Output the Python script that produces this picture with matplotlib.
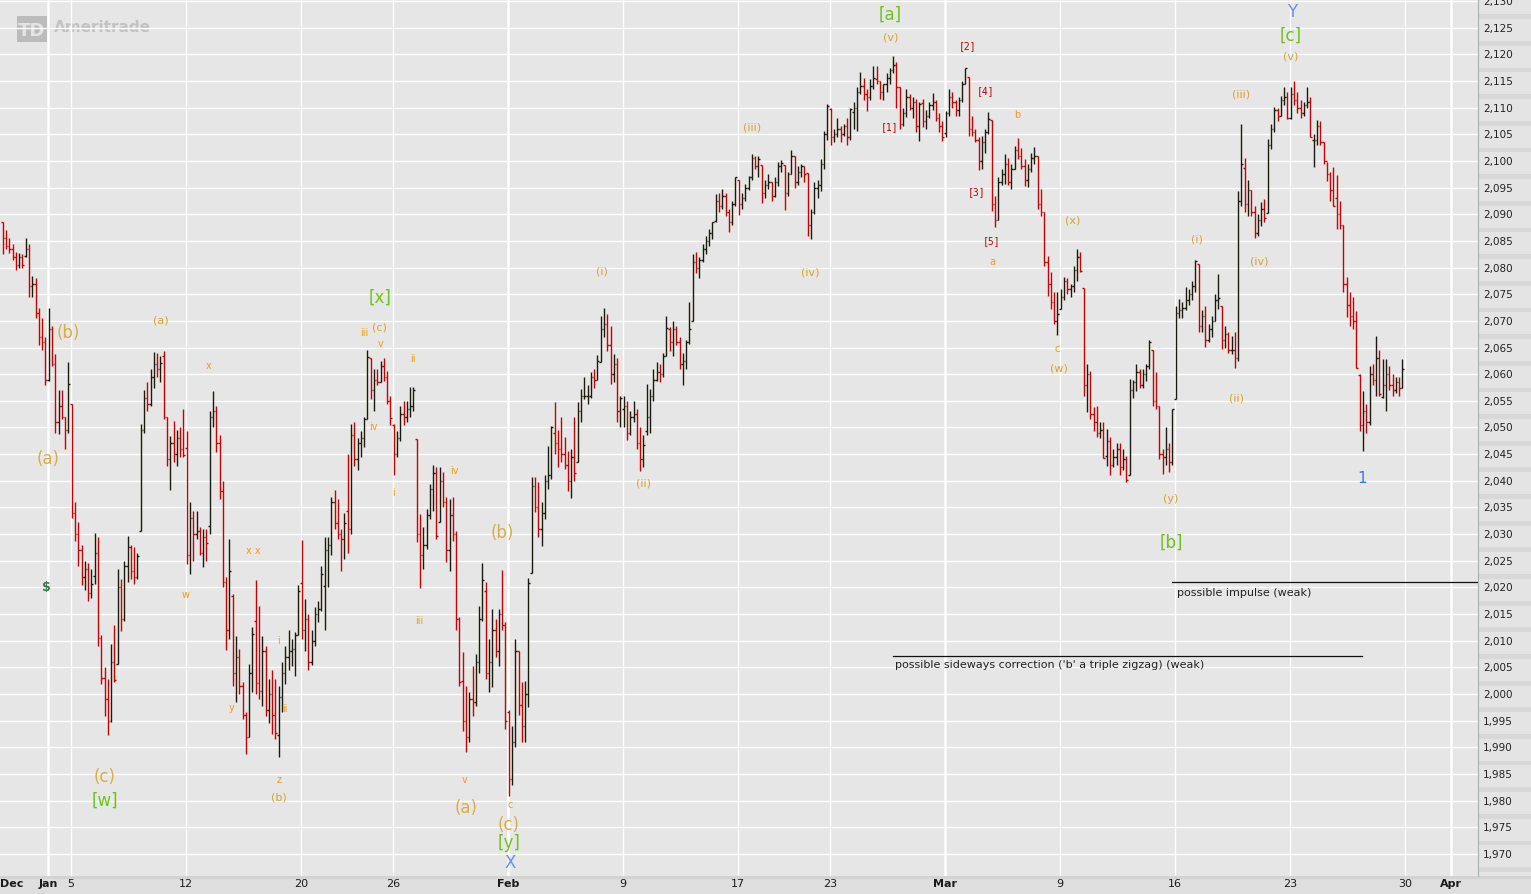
import numpy as np
import matplotlib
matplotlib.use("Agg")
import matplotlib.pyplot as plt
from matplotlib.patches import Rectangle
from matplotlib.transforms import blended_transform_factory

# trading days shown, hourly bars (7 per session)
days = ["12-30", "12-31", "01-02", "01-05", "01-06", "01-07", "01-08", "01-09",
        "01-12", "01-13", "01-14", "01-15", "01-16", "01-20", "01-21", "01-22",
        "01-23", "01-26", "01-27", "01-28", "01-29", "01-30", "02-02", "02-03",
        "02-04", "02-05", "02-06", "02-09", "02-10", "02-11", "02-12", "02-13",
        "02-17", "02-18", "02-19", "02-20", "02-23", "02-24", "02-25", "02-26",
        "02-27", "03-02", "03-03", "03-04", "03-05", "03-06", "03-09", "03-10",
        "03-11", "03-12", "03-13", "03-16", "03-17", "03-18", "03-19", "03-20",
        "03-23", "03-24", "03-25", "03-26", "03-27"]

day_open = [2088.5, 2082.1, 2058.9, 2054.4, 2022.2, 2005.6, 2030.6, 2063.5,
            2046.1, 2031.6, 2018.4, 2013.75, 1992.25, 2020.8, 2020.2, 2034.3,
            2063.0, 2050.4, 2047.9, 2032.3, 2002.45, 2019.35, 1996.7, 2022.7,
            2048.9, 2043.45, 2062.3, 2053.5, 2049.4, 2068.55, 2070.0, 2088.8,
            2096.5, 2099.2, 2099.3, 2097.7, 2109.8, 2109.1, 2115.3, 2113.9,
            2110.9, 2105.2, 2115.8, 2107.7, 2098.5, 2100.9, 2072.3, 2076.1,
            2044.7, 2041.1, 2064.6, 2055.4, 2080.6, 2072.8, 2098.7, 2090.3,
            2108.0, 2103.9, 2093.1, 2059.9, 2055.8]

bar_high = [
    [2088.5, 2087.0, 2085.5, 2084.5, 2083.0, 2082.8, 2082.5],
    [2085.6, 2084.5, 2078.5, 2078.0, 2072.5, 2070.5, 2067.0],
    [2072.4, 2069.0, 2063.8, 2057.0, 2057.0, 2052.0, 2062.3],
    [2054.4, 2036.0, 2032.3, 2028.0, 2025.0, 2024.5, 2023.5],
    [2030.3, 2029.5, 2011.0, 2005.0, 2002.8, 2009.4, 2013.0],
    [2023.5, 2021.5, 2025.0, 2029.6, 2028.0, 2027.5, 2026.5],
    [2050.6, 2057.0, 2058.5, 2061.0, 2064.1, 2064.0, 2063.5],
    [2064.4, 2052.0, 2048.4, 2051.2, 2049.5, 2050.0, 2053.5],
    [2049.3, 2036.0, 2034.3, 2034.3, 2031.3, 2031.0, 2031.0],
    [2053.0, 2056.9, 2054.0, 2048.5, 2040.0, 2022.0, 2029.0],
    [2018.8, 2010.9, 2008.4, 2002.3, 1996.6, 2005.6, 2012.6],
    [2021.4, 2016.5, 2010.9, 2009.0, 2002.8, 2004.5, 2002.8],
    [2001.5, 2006.0, 2009.0, 2012.0, 2010.3, 2011.6, 2020.5],
    [2028.9, 2017.8, 2015.0, 2012.0, 2016.3, 2017.5, 2024.0],
    [2029.5, 2029.5, 2037.0, 2038.3, 2036.6, 2031.0, 2034.0],
    [2045.0, 2050.6, 2051.0, 2048.0, 2049.3, 2052.0, 2064.6],
    [2063.0, 2061.0, 2061.0, 2062.5, 2063.0, 2060.6, 2056.0],
    [2050.6, 2049.3, 2054.0, 2055.0, 2055.0, 2057.6, 2057.6],
    [2047.9, 2033.8, 2031.3, 2034.7, 2039.4, 2043.0, 2042.5],
    [2042.5, 2041.6, 2037.0, 2036.6, 2037.0, 2030.5, 2014.4],
    [2007.9, 2001.5, 2000.4, 2005.3, 2007.5, 2016.5, 2024.6],
    [2021.0, 2010.3, 2016.0, 2014.0, 2016.0, 2023.3, 2013.5],
    [1997.0, 1994.0, 2010.3, 2008.0, 2002.3, 2002.5, 2021.7],
    [2040.7, 2040.7, 2039.8, 2036.0, 2041.0, 2046.5, 2050.3],
    [2054.7, 2049.5, 2052.0, 2048.2, 2045.5, 2046.0, 2052.0],
    [2054.8, 2057.2, 2059.5, 2058.0, 2060.4, 2061.0, 2063.6],
    [2071.0, 2072.4, 2071.2, 2069.0, 2063.7, 2063.0, 2056.0],
    [2056.0, 2055.0, 2053.0, 2055.0, 2053.5, 2050.0, 2048.5],
    [2058.2, 2057.2, 2061.0, 2062.3, 2062.0, 2064.0, 2070.9],
    [2068.8, 2070.0, 2069.0, 2067.0, 2064.0, 2066.5, 2073.5],
    [2082.5, 2083.0, 2082.0, 2084.4, 2086.0, 2087.2, 2088.5],
    [2093.8, 2094.0, 2094.7, 2094.0, 2091.0, 2092.5, 2097.0],
    [2096.5, 2094.0, 2095.7, 2097.2, 2101.3, 2101.0, 2101.0],
    [2099.2, 2096.5, 2097.6, 2096.0, 2097.0, 2099.8, 2100.2],
    [2099.3, 2098.0, 2102.1, 2101.0, 2099.0, 2099.5, 2099.0],
    [2097.7, 2091.0, 2096.0, 2096.5, 2100.4, 2105.6, 2110.6],
    [2110.0, 2106.0, 2108.0, 2106.5, 2107.0, 2108.0, 2110.0],
    [2111.0, 2113.9, 2116.7, 2115.5, 2113.5, 2115.4, 2117.9],
    [2117.8, 2115.0, 2114.5, 2116.5, 2117.5, 2119.6, 2118.5],
    [2113.9, 2110.0, 2113.5, 2112.5, 2112.0, 2111.6, 2111.0],
    [2111.6, 2109.5, 2111.0, 2112.7, 2111.5, 2109.0, 2107.5],
    [2109.4, 2113.5, 2113.0, 2111.5, 2112.0, 2115.0, 2117.5],
    [2115.8, 2108.5, 2106.0, 2104.5, 2104.7, 2106.0, 2109.2],
    [2107.7, 2093.4, 2097.0, 2098.5, 2101.3, 2100.5, 2099.5],
    [2102.8, 2104.3, 2102.5, 2100.4, 2099.5, 2101.5, 2102.6],
    [2100.9, 2094.7, 2090.5, 2082.2, 2079.2, 2075.5, 2075.4],
    [2076.0, 2078.3, 2078.0, 2077.0, 2080.2, 2083.5, 2083.0],
    [2076.1, 2061.9, 2060.6, 2053.8, 2054.0, 2051.0, 2051.0],
    [2049.7, 2048.2, 2046.0, 2047.0, 2047.0, 2046.0, 2044.6],
    [2059.1, 2059.0, 2061.9, 2061.0, 2061.0, 2062.0, 2066.4],
    [2064.6, 2060.4, 2054.0, 2046.0, 2050.0, 2047.0, 2053.5],
    [2072.8, 2074.1, 2073.5, 2076.4, 2076.0, 2077.5, 2081.4],
    [2080.6, 2072.0, 2072.8, 2069.5, 2071.0, 2075.0, 2078.8],
    [2072.8, 2069.0, 2068.0, 2067.2, 2068.0, 2094.4, 2106.9],
    [2100.5, 2096.5, 2094.5, 2091.5, 2090.0, 2092.3, 2092.9],
    [2104.1, 2107.0, 2110.1, 2110.0, 2112.2, 2113.9, 2113.0],
    [2113.9, 2114.9, 2113.0, 2111.5, 2111.0, 2113.9, 2112.0],
    [2105.0, 2107.6, 2107.5, 2103.5, 2099.8, 2098.0, 2098.8],
    [2097.4, 2092.5, 2088.0, 2078.2, 2075.4, 2074.5, 2071.8],
    [2060.0, 2056.8, 2054.5, 2061.5, 2062.0, 2067.2, 2064.5],
    [2062.8, 2062.8, 2061.5, 2060.0, 2059.5, 2059.5, 2062.8],
]

bar_low = [
    [2082.5, 2083.5, 2082.8, 2081.5, 2079.6, 2080.0, 2080.0],
    [2082.0, 2074.5, 2074.5, 2070.5, 2065.5, 2064.5, 2057.9],
    [2058.7, 2061.5, 2049.0, 2048.8, 2051.5, 2046.0, 2049.0],
    [2033.0, 2028.7, 2024.0, 2020.5, 2019.5, 2017.4, 2018.0],
    [2020.6, 2009.0, 2001.9, 1995.8, 1992.4, 1994.7, 2002.3],
    [2005.6, 2011.8, 2013.7, 2021.0, 2021.5, 2020.6, 2021.6],
    [2030.6, 2049.0, 2053.0, 2054.0, 2057.5, 2059.5, 2058.5],
    [2051.6, 2042.8, 2038.3, 2043.5, 2042.8, 2044.5, 2044.5],
    [2024.4, 2022.6, 2025.0, 2029.0, 2026.0, 2023.8, 2025.0],
    [2030.0, 2050.0, 2045.4, 2036.5, 2020.0, 2008.3, 2010.3],
    [2001.5, 1998.5, 2000.0, 1995.3, 1988.7, 1992.0, 2000.4],
    [2000.0, 1999.0, 1997.8, 1995.8, 1994.5, 1992.5, 1991.5],
    [1988.1, 1996.6, 2001.9, 2004.5, 2005.3, 2003.4, 2011.0],
    [2010.3, 2008.0, 2004.5, 2005.5, 2009.0, 2013.6, 2015.5],
    [2012.0, 2020.0, 2026.0, 2031.0, 2029.0, 2023.0, 2025.3],
    [2026.4, 2030.0, 2042.7, 2042.0, 2044.5, 2046.3, 2051.5],
    [2055.3, 2053.0, 2058.0, 2058.5, 2058.7, 2054.4, 2050.5],
    [2041.0, 2044.5, 2047.5, 2050.5, 2051.0, 2052.0, 2053.0],
    [2028.5, 2019.9, 2023.4, 2027.2, 2032.8, 2034.3, 2029.0],
    [2032.3, 2035.0, 2024.8, 2023.0, 2028.7, 2012.0, 2001.5],
    [1993.0, 1989.2, 1991.0, 1995.8, 1997.8, 2004.0, 2013.7],
    [2002.8, 2000.4, 2001.3, 2007.0, 2005.3, 2012.0, 1993.4],
    [1980.9, 1983.0, 1990.0, 1996.0, 1991.0, 1991.0, 1997.6],
    [2022.7, 2034.2, 2029.5, 2027.8, 2032.8, 2038.4, 2040.3],
    [2045.0, 2042.6, 2043.5, 2042.2, 2038.0, 2036.7, 2040.0],
    [2043.45, 2051.0, 2055.3, 2054.5, 2055.5, 2057.5, 2059.0],
    [2062.3, 2067.0, 2064.4, 2058.2, 2058.5, 2051.0, 2050.0],
    [2050.0, 2047.6, 2048.5, 2051.0, 2046.0, 2041.9, 2042.5],
    [2048.6, 2049.0, 2055.0, 2058.7, 2058.5, 2059.5, 2063.4],
    [2064.4, 2063.5, 2065.5, 2061.0, 2058.0, 2061.0, 2065.7],
    [2070.0, 2079.0, 2078.0, 2081.0, 2082.5, 2084.0, 2085.4],
    [2088.5, 2090.5, 2091.0, 2089.7, 2086.7, 2088.0, 2091.5],
    [2089.8, 2091.0, 2092.5, 2094.5, 2096.5, 2098.5, 2097.0],
    [2092.2, 2093.0, 2094.7, 2092.5, 2093.2, 2095.3, 2098.0],
    [2090.8, 2093.5, 2097.5, 2095.0, 2095.5, 2097.0, 2096.0],
    [2086.0, 2085.4, 2090.0, 2093.0, 2094.4, 2098.5, 2104.0],
    [2103.0, 2103.5, 2104.5, 2103.5, 2104.7, 2103.0, 2104.0],
    [2105.9, 2105.6, 2112.5, 2111.5, 2109.4, 2111.5, 2113.5],
    [2114.4, 2111.6, 2111.5, 2113.0, 2114.5, 2116.5, 2109.9],
    [2106.0, 2106.5, 2108.2, 2109.5, 2108.0, 2105.4, 2103.8],
    [2106.3, 2106.0, 2108.0, 2109.5, 2107.5, 2105.4, 2103.8],
    [2104.5, 2108.5, 2110.0, 2108.5, 2108.5, 2111.0, 2114.5],
    [2104.7, 2104.7, 2103.5, 2098.3, 2098.5, 2101.5, 2105.0],
    [2090.6, 2087.6, 2089.0, 2095.5, 2095.7, 2095.5, 2094.7],
    [2098.5, 2100.4, 2098.5, 2095.3, 2095.2, 2098.0, 2099.4],
    [2091.0, 2089.7, 2080.3, 2074.7, 2072.2, 2069.4, 2067.3],
    [2072.2, 2074.0, 2075.0, 2074.5, 2075.4, 2077.5, 2079.2],
    [2055.9, 2052.9, 2051.6, 2049.3, 2048.2, 2048.0, 2044.2],
    [2042.8, 2041.0, 2042.5, 2043.0, 2041.0, 2042.0, 2039.7],
    [2041.1, 2055.5, 2056.8, 2057.5, 2057.5, 2058.7, 2061.0],
    [2054.0, 2053.5, 2044.0, 2041.2, 2043.0, 2041.6, 2043.0],
    [2055.4, 2070.5, 2070.5, 2072.0, 2073.0, 2074.0, 2075.4],
    [2068.0, 2068.0, 2065.1, 2066.0, 2067.0, 2070.0, 2072.2],
    [2064.7, 2065.0, 2064.0, 2063.8, 2061.2, 2062.5, 2091.5],
    [2090.4, 2089.7, 2089.7, 2085.6, 2086.0, 2087.8, 2088.5],
    [2090.3, 2102.2, 2105.5, 2107.5, 2108.5, 2110.5, 2107.9],
    [2107.9, 2110.5, 2109.0, 2108.0, 2108.5, 2110.0, 2104.4],
    [2098.8, 2103.0, 2103.0, 2099.4, 2096.2, 2092.5, 2091.5],
    [2087.2, 2087.2, 2075.4, 2070.7, 2069.0, 2068.5, 2061.1],
    [2049.3, 2045.5, 2049.0, 2050.5, 2058.0, 2055.9, 2055.9],
    [2055.5, 2053.0, 2057.0, 2056.0, 2056.5, 2056.0, 2057.5],
]

bar_close = [
    [2085.5, 2084.0, 2083.5, 2082.0, 2080.5, 2082.0, 2080.4],
    [2083.5, 2076.5, 2077.0, 2071.5, 2067.0, 2066.0, 2058.9],
    [2068.5, 2062.0, 2051.0, 2054.0, 2052.0, 2049.5, 2058.2],
    [2034.0, 2030.0, 2027.0, 2022.0, 2023.5, 2019.0, 2020.6],
    [2026.5, 2010.5, 2003.0, 1999.0, 1995.0, 2006.0, 2002.6],
    [2020.0, 2014.0, 2024.0, 2027.5, 2023.0, 2022.0, 2025.9],
    [2049.5, 2055.5, 2054.5, 2059.5, 2062.0, 2061.0, 2062.1],
    [2052.0, 2044.0, 2047.0, 2045.0, 2048.0, 2046.0, 2044.8],
    [2026.0, 2033.0, 2030.0, 2030.5, 2026.5, 2029.5, 2028.3],
    [2052.0, 2053.0, 2047.0, 2038.0, 2021.0, 2012.0, 2023.0],
    [2004.0, 2007.0, 2001.5, 1996.0, 1992.0, 2004.0, 2011.3],
    [2002.0, 2000.5, 2008.0, 1997.0, 2000.0, 1996.0, 1992.7],
    [1999.5, 2004.0, 2007.0, 2008.0, 2008.5, 2011.0, 2019.4],
    [2012.0, 2014.0, 2006.0, 2010.0, 2015.0, 2016.0, 2022.6],
    [2027.0, 2028.0, 2036.0, 2032.0, 2030.0, 2029.0, 2032.1],
    [2031.0, 2048.5, 2044.0, 2047.0, 2048.0, 2051.5, 2063.2],
    [2057.0, 2059.0, 2058.5, 2061.5, 2059.5, 2055.0, 2051.8],
    [2045.0, 2048.0, 2052.5, 2052.0, 2053.5, 2054.0, 2057.1],
    [2030.0, 2026.0, 2028.0, 2033.5, 2038.5, 2041.5, 2029.6],
    [2040.0, 2036.0, 2027.0, 2033.5, 2030.0, 2014.0, 2002.2],
    [1995.0, 1992.0, 1999.0, 1998.5, 2006.0, 2014.0, 2021.3],
    [2004.0, 2006.0, 2012.0, 2008.0, 2015.0, 2013.0, 1995.0],
    [1984.0, 1991.0, 2008.0, 1998.0, 1994.0, 2000.0, 2020.9],
    [2039.0, 2035.0, 2031.0, 2034.0, 2040.0, 2041.0, 2050.0],
    [2047.0, 2046.0, 2045.0, 2043.0, 2040.0, 2044.5, 2041.5],
    [2053.0, 2056.0, 2056.0, 2056.0, 2059.5, 2059.0, 2062.5],
    [2068.5, 2069.5, 2065.5, 2060.0, 2062.0, 2053.0, 2055.5],
    [2054.0, 2049.0, 2052.0, 2052.5, 2047.0, 2044.0, 2046.7],
    [2052.0, 2056.0, 2059.0, 2060.5, 2060.0, 2063.5, 2068.6],
    [2066.0, 2068.5, 2066.0, 2062.0, 2062.5, 2066.0, 2068.5],
    [2081.0, 2080.0, 2081.5, 2083.5, 2085.0, 2086.5, 2088.5],
    [2092.5, 2091.5, 2093.5, 2090.5, 2088.5, 2092.0, 2097.0],
    [2092.0, 2093.0, 2095.0, 2097.0, 2100.5, 2099.0, 2100.3],
    [2094.0, 2095.5, 2096.0, 2093.5, 2096.0, 2099.0, 2099.7],
    [2094.0, 2097.5, 2101.0, 2096.0, 2098.0, 2099.0, 2097.5],
    [2088.0, 2090.5, 2095.0, 2095.5, 2099.5, 2105.0, 2110.3],
    [2104.5, 2105.0, 2106.0, 2105.0, 2106.5, 2104.5, 2109.7],
    [2110.0, 2113.0, 2114.0, 2112.5, 2112.0, 2114.0, 2115.5],
    [2115.0, 2113.0, 2114.5, 2115.5, 2117.0, 2118.0, 2113.9],
    [2107.0, 2109.0, 2112.0, 2110.0, 2111.0, 2106.5, 2110.7],
    [2107.5, 2108.5, 2110.5, 2111.0, 2108.0, 2106.5, 2104.5],
    [2109.0, 2112.0, 2111.0, 2109.5, 2111.5, 2114.5, 2117.4],
    [2106.0, 2105.5, 2104.0, 2100.0, 2103.5, 2105.5, 2107.8],
    [2092.0, 2089.0, 2096.0, 2097.5, 2099.5, 2096.0, 2098.5],
    [2102.0, 2101.0, 2099.0, 2096.5, 2098.5, 2100.5, 2101.0],
    [2092.0, 2090.5, 2081.0, 2077.0, 2073.5, 2070.0, 2071.3],
    [2074.5, 2077.5, 2076.0, 2076.5, 2079.5, 2082.0, 2079.4],
    [2058.0, 2060.0, 2052.5, 2051.0, 2049.0, 2049.5, 2044.2],
    [2047.5, 2043.0, 2044.5, 2046.0, 2042.5, 2044.0, 2040.2],
    [2057.0, 2058.5, 2060.5, 2058.0, 2060.0, 2061.5, 2066.0],
    [2055.0, 2054.0, 2045.0, 2044.5, 2046.0, 2043.5, 2053.4],
    [2071.5, 2072.0, 2072.5, 2074.0, 2075.0, 2076.5, 2081.2],
    [2069.0, 2071.0, 2066.5, 2068.5, 2070.0, 2074.0, 2074.3],
    [2066.5, 2067.5, 2064.5, 2064.5, 2063.0, 2092.5, 2099.5],
    [2092.0, 2094.5, 2090.5, 2086.5, 2089.0, 2091.0, 2089.3],
    [2103.0, 2106.0, 2109.5, 2108.5, 2111.5, 2112.0, 2108.1],
    [2112.5, 2111.5, 2110.0, 2109.0, 2110.5, 2111.0, 2104.4],
    [2104.0, 2106.5, 2103.5, 2100.0, 2097.5, 2094.5, 2091.5],
    [2090.0, 2088.0, 2077.0, 2073.0, 2071.0, 2070.0, 2061.1],
    [2050.5, 2053.0, 2051.0, 2060.0, 2059.0, 2063.0, 2056.2],
    [2058.0, 2060.0, 2058.0, 2057.0, 2058.5, 2057.5, 2061.0],
]

# x axis labels, position in trading days (Jan 2 = 0)
tick_pos = [-1.57, 0, 1, 6, 11, 15, 20, 25, 30, 34, 39, 44, 49, 54, 59, 61]
tick_text = ["Dec", "Jan", "5", "12", "20", "26", "Feb", "9", "17", "23",
             "Mar", "9", "16", "23", "30", "Apr"]
months = ["Dec", "Jan", "Feb", "Mar", "Apr"]

# wave count labels: day, price, text, style
wave_labels = [
    (36.6, 2127.7, "[a]", "green"), (36.65, 2123.4, "(v)", "gold"),
    (39.96, 2121.7, "[2]", "red"), (40.74, 2113.3, "[4]", "red"),
    (36.6, 2106.5, "[1]", "red"), (40.35, 2094.4, "[3]", "red"),
    (41.04, 2085.2, "[5]", "red"), (42.13, 2108.8, "b", "orange"),
    (41.04, 2081.2, "a", "orange"), (30.6, 2106.5, "(iii)", "gold"),
    (33.13, 2079.2, "(iv)", "gold"), (24.09, 2079.5, "(i)", "gold"),
    (25.87, 2039.6, "(ii)", "gold"), (44.57, 2089.1, "(x)", "gold"),
    (43.87, 2064.9, "c", "orange"), (43.96, 2061.2, "(w)", "gold"),
    (49.96, 2085.5, "(i)", "gold"), (51.87, 2112.7, "(iii)", "gold"),
    (52.65, 2081.4, "(iv)", "gold"), (51.65, 2055.7, "(ii)", "gold"),
    (54.04, 2119.7, "(v)", "gold"), (54.04, 2123.6, "[c]", "green"),
    (54.09, 2128.1, "Y", "blue"), (57.13, 2040.7, "1", "blue1"),
    (48.83, 2036.8, "(y)", "gold"), (48.83, 2028.5, "[b]", "green"),
    (0.87, 2067.9, "(b)", "goldbig"), (0.0, 2044.3, "(a)", "goldbig"),
    (4.91, 2070.2, "(a)", "gold"), (7.0, 2061.7, "x", "orange"),
    (-0.09, 2020.1, "$", "dollar"), (6.0, 2018.8, "w", "orange"),
    (8.91, 2027.0, "x x", "orange"), (7.96, 1997.6, "y", "orange"),
    (10.04, 2010.1, "i", "orange"), (10.3, 1997.4, "ii", "orange"),
    (10.04, 1984.1, "z", "orange"), (10.04, 1980.7, "(b)", "gold"),
    (2.48, 1984.6, "(c)", "goldbig"), (2.48, 1980.1, "[w]", "green"),
    (14.43, 2074.5, "[x]", "green"), (14.43, 2069.0, "(c)", "gold"),
    (13.74, 2067.9, "iii", "orange"), (14.48, 2065.8, "v", "orange"),
    (15.87, 2063.0, "ii", "orange"), (14.13, 2050.3, "iv", "orange"),
    (15.0, 2037.9, "i", "orange"), (17.65, 2042.0, "iv", "orange"),
    (16.13, 2013.9, "iii", "orange"), (19.74, 2030.4, "(b)", "goldbig"),
    (18.13, 1984.1, "v", "orange"), (18.17, 1978.8, "(a)", "goldbig"),
    (20.09, 1979.4, "c", "orange"), (20.04, 1975.6, "(c)", "goldbig"),
    (20.04, 1972.2, "[y]", "green"), (20.09, 1968.5, "X", "blue"),
]

styles = {
    "green": dict(color="#6cc41a", fontsize=12),
    "gold": dict(color="#d8a22e", fontsize=8),
    "goldbig": dict(color="#dcac48", fontsize=12),
    "orange": dict(color="#f59a1a", fontsize=7),
    "red": dict(color="#c00000", fontsize=7, family="DejaVu Sans Mono"),
    "blue": dict(color="#6a8cf0", fontsize=12),
    "blue1": dict(color="#3f70f2", fontsize=11),
    "dollar": dict(color="#2e7d4f", fontsize=9, fontweight="bold"),
}

W, H = 1531, 895
fig = plt.figure(figsize=(W / 100, H / 100), dpi=100)
fig.patch.set_facecolor("#e6e6e6")
ax = fig.add_axes([0, 18 / H, 1478 / W, 877 / H])
ax.set_facecolor("#e6e6e6")
ax.set_xlim(-2.087, 62.17)
ax.set_ylim(1965.87, 2130.375)
for s in ax.spines.values():
    s.set_visible(False)
ax.set_xticks([])
ax.set_yticks([])

# watermark
ax.add_patch(Rectangle((17 / W, 1 - 43 / H), 30 / W, 26 / H, transform=fig.transFigure,
                       facecolor="#bcbcbc", edgecolor="none", zorder=0.5))
ax.text(32 / W, 1 - 30.5 / H, "TD", transform=fig.transFigure, ha="center", va="center",
        fontsize=13, fontweight="bold", color="#e4e4e4", zorder=0.6)
ax.text(54 / W, 1 - 28 / H, "Ameritrade", transform=fig.transFigure, ha="left", va="center",
        fontsize=11, fontweight="bold", color="#c2c2c2", zorder=0.6)

grid_prices = np.arange(1970, 2131, 5)
for p in grid_prices:
    ax.axhline(p, color="white", lw=1.0, zorder=1)
for pos, lab in zip(tick_pos, tick_text):
    if lab == "Dec":
        continue
    ax.axvline(pos, color="white", lw=1.8 if lab in months else 1.0, zorder=1)

# hourly OHLC bars
xs, opens, highs, lows, closes = [], [], [], [], []
for k in range(len(days)):
    d = k - 2
    o = day_open[k]
    for i in range(7):
        xs.append(d + (i + 0.2) / 7)
        opens.append(o)
        highs.append(bar_high[k][i])
        lows.append(bar_low[k][i])
        closes.append(bar_close[k][i])
        o = bar_close[k][i]
xs = np.array(xs)
cols = ["#1c1a0c" if c >= o else "#c80000" for o, c in zip(opens, closes)]
tw = 1.4 / 23
ax.vlines(xs, lows, highs, colors=cols, lw=1.0, zorder=2)
ax.hlines(opens, xs - tw, xs, colors=cols, lw=1.0, zorder=2)
ax.hlines(closes, xs, xs + tw, colors=cols, lw=1.0, zorder=2)

for d, p, t, st in wave_labels:
    ax.text(d, p, t, ha="center", va="center", zorder=3, **styles[st])

# scenario lines
ax.plot([48.87, 62.2], [2021.0, 2021.0], color="#111111", lw=0.9, zorder=3)
ax.text(49.09, 2019.1, "possible impulse (weak)", fontsize=8, color="#222222",
        ha="left", va="center", zorder=3)
ax.plot([36.74, 57.13], [2007.1, 2007.1], color="#111111", lw=0.9, zorder=3)
ax.text(36.83, 2005.6, "possible sideways correction ('b' a triple zigzag) (weak)",
        fontsize=8, color="#222222", ha="left", va="center", zorder=3)

# date labels under the chart
trans = blended_transform_factory(ax.transData, ax.transAxes)
for pos, lab in zip(tick_pos, tick_text):
    ax.text(pos, -7.5 / 877, lab, transform=trans, ha="center", va="center", fontsize=8,
            color="#1a1a1a", fontweight="bold" if lab in months else "normal")

# bottom band
fig.patches.append(Rectangle((0, 0), 1, 18 / H, transform=fig.transFigure,
                             facecolor="#dedede", edgecolor="none", zorder=-1))
fig.patches.append(Rectangle((0, 15 / H), 1, 3 / H, transform=fig.transFigure,
                             facecolor="#d3d3d3", edgecolor="none", zorder=-1))

# price scale on the right
ax2 = fig.add_axes([1478 / W, 18 / H, 53 / W, 877 / H])
ax2.set_facecolor("#e4e4e4")
ax2.set_xlim(0, 1)
ax2.set_ylim(1965.87, 2130.375)
ax2.set_xticks([])
ax2.set_yticks([])
for name, s in ax2.spines.items():
    s.set_visible(name == "left")
ax2.spines["left"].set_color("#a3b5ab")
for p in grid_prices:
    ax2.axhspan(p - 3.4, p - 2.5, color="#d8d8d8", lw=0)
    ax2.text(0.1, p, f"{p:,}", ha="left", va="center", fontsize=7.5, color="#222222")

fig.savefig("out.png", dpi=100, facecolor=fig.get_facecolor())
